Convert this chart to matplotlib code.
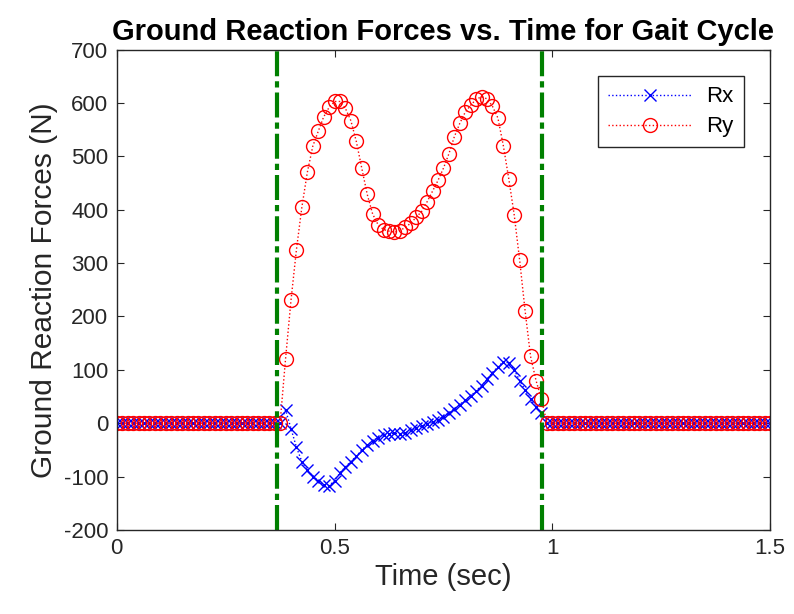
import matplotlib
matplotlib.use("Agg")
import matplotlib.pyplot as plt
import numpy as np

plt.rcParams['font.family'] = ['Liberation Sans', 'DejaVu Sans']
plt.rcParams['axes.unicode_minus'] = False

# time samples (sec), 80 Hz over the whole record
time = np.arange(121) * 0.0125

# swing phase before heel strike / after toe off: all zero
pre_zero = [0.0] * 31
post_zero = [0.0] * 42

# stance phase samples, t = 0.3875 ... 0.975
rx_stance = [25, -10, -45, -72, -88, -100, -108, -115, -117, -108,
             -93, -82, -72, -62, -50, -41, -33, -27, -22, -20,
             -19, -20, -18, -13, -9, -6, -2, 2, 6, 12,
             19, 27, 35, 43, 51, 61, 70, 82, 95, 106,
             115, 113, 100, 80, 62, 45, 30, 20]
ry_stance = [120, 230, 325, 405, 470, 519, 547, 574, 592, 603,
             603, 590, 567, 528, 478, 429, 392, 372, 363, 360,
             358, 361, 367, 375, 386, 397, 415, 435, 455, 478,
             505, 537, 562, 583, 596, 607, 612, 608, 594, 572,
             520, 458, 390, 305, 210, 125, 80, 45]

Rx = np.array(pre_zero + rx_stance + post_zero)
Ry = np.array(pre_zero + ry_stance + post_zero)

# heel strike and toe off
events = [0.368, 0.977]

fig = plt.figure(figsize=(7.94, 6.14), dpi=100)
ax = fig.add_axes([0.147, 0.137, 0.823, 0.782])

ax.plot(time, Rx, ':', color=(0, 0, 1), marker='x', markersize=8,
        markeredgewidth=1.0, linewidth=1.0, label='Rx')
ax.plot(time, Ry, ':', color=(1, 0, 0), marker='o', markersize=10,
        markerfacecolor='none', markeredgewidth=1.0, linewidth=1.0, label='Ry')
for e in events:
    ax.axvline(e, color=(0, 0.5, 0), linestyle=(0, (6, 1.2, 1.5, 1.2)),
               linewidth=3.0)

ax.set_xlim(0, 1.5)
ax.set_ylim(-200, 700)
ax.set_xticks([0, 0.5, 1, 1.5])
ax.set_xticklabels(['0', '0.5', '1', '1.5'])
ax.set_yticks(np.arange(-200, 701, 100))

gray = (0.15, 0.15, 0.15)
for s in ax.spines.values():
    s.set_color(gray)
    s.set_linewidth(1.0)
ax.tick_params(direction='in', length=5, width=0.8, colors=gray,
               labelsize=16, top=True, right=True, pad=6)
for lab in ax.get_xticklabels() + ax.get_yticklabels():
    lab.set_color(gray)

ax.set_xlabel('Time (sec)', fontsize=21, color=gray, labelpad=3)
ax.set_ylabel('Ground Reaction Forces (N)', fontsize=21.5, color=gray, labelpad=4)
ax.set_title('Ground Reaction Forces vs. Time for Gait Cycle', fontsize=21,
             fontweight='bold', color='black', pad=7)

leg = ax.legend(loc='upper right', fontsize=16, handlelength=3.7,
                handletextpad=0.7, labelspacing=0.4, borderpad=0.45,
                fancybox=False, framealpha=1, borderaxespad=1.2)
leg.get_frame().set_edgecolor(gray)
leg.get_frame().set_linewidth(1.0)

fig.savefig('out.png', dpi=100)
